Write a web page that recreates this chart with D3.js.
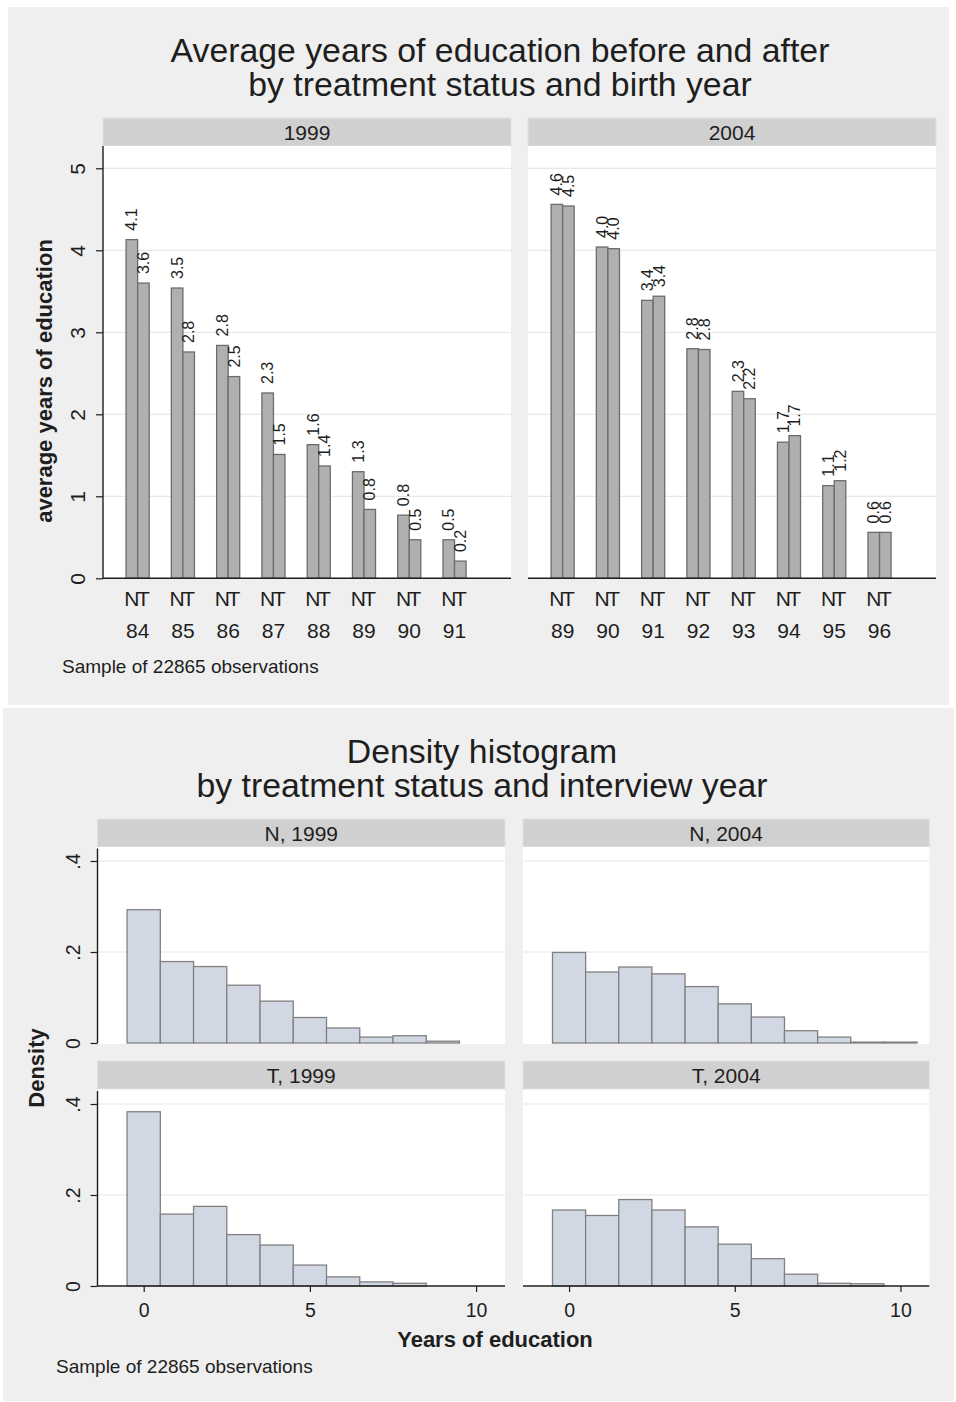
<!DOCTYPE html>
<html>
<head>
<meta charset="utf-8">
<script src="https://cdn.jsdelivr.net/npm/d3@7"></script>
<style>
  body { margin: 0; background: #ffffff; }
  text { font-family: "Liberation Sans", Arial, sans-serif; fill: #1e1e1e; }
</style>
</head>
<body>
<svg id="chart" width="956" height="1402"></svg>
<script>
// ---- Bar chart data: average years of education by cohort (birth year) ----
const cohorts1999 = ["84", "85", "86", "87", "88", "89", "90", "91"];
const cohorts2004 = ["89", "90", "91", "92", "93", "94", "95", "96"];
const groups = ["N", "T"];
const eduN1999 = [4.13, 3.54, 2.84, 2.26, 1.63, 1.30, 0.77, 0.47];
const eduT1999 = [3.60, 2.76, 2.46, 1.51, 1.37, 0.84, 0.47, 0.21];
const eduN2004 = [4.56, 4.04, 3.39, 2.80, 2.28, 1.66, 1.13, 0.56];
const eduT2004 = [4.54, 4.02, 3.44, 2.79, 2.19, 1.74, 1.19, 0.56];
const eduAxisTicks = [0, 1, 2, 3, 4, 5];

// ---- Histogram data: density of years of education (bins centred on integers) ----
const eduYears = [0, 1, 2, 3, 4, 5, 6, 7, 8, 9, 10];
const densN1999 = [0.293, 0.179, 0.168, 0.127, 0.092, 0.056, 0.033, 0.013, 0.016, 0.004, 0];
const densN2004 = [0.199, 0.156, 0.167, 0.152, 0.124, 0.086, 0.057, 0.027, 0.013, 0.002, 0.002];
const densT1999 = [0.383, 0.158, 0.175, 0.113, 0.090, 0.046, 0.020, 0.009, 0.006, 0, 0];
const densT2004 = [0.167, 0.155, 0.190, 0.167, 0.130, 0.092, 0.060, 0.026, 0.006, 0.005, 0];
const densAxisTicks = [0, 0.2, 0.4];
const yearAxisTicks = [0, 5, 10];

const sampleNote = "Sample of 22865 observations";

// ---- Styling ----
const BG = "#efefef", STRIP = "#d0d0d0", STRIP_EDGE = "#d8e4ea", GRID = "#e8e8e8",
      AXIS = "#1e1e1e", BAR_FILL = "#b0b0b0", BAR_EDGE = "#6c6c6c",
      HIST_FILL = "#d2d8e3", HIST_EDGE = "#808080";

const svg = d3.select("#chart");

// Graph backgrounds
svg.append("rect").attr("x", 8).attr("y", 7).attr("width", 941).attr("height", 698).attr("fill", BG);
svg.append("rect").attr("x", 3).attr("y", 708).attr("width", 951).attr("height", 693).attr("fill", BG);

function title(lines, cx, y0, dy) {
  lines.forEach((t, i) => svg.append("text")
    .attr("x", cx).attr("y", y0 + i * dy)
    .attr("text-anchor", "middle")
    .style("font-size", "33.8px")
    .text(t));
}

function strip(x0, x1, y0, h, label) {
  svg.append("rect").attr("x", x0).attr("y", y0).attr("width", x1 - x0).attr("height", h)
    .attr("fill", STRIP).attr("stroke", STRIP_EDGE).attr("stroke-width", 1);
  svg.append("text").attr("x", (x0 + x1) / 2).attr("y", y0 + h / 2 + 7.5)
    .attr("text-anchor", "middle").style("font-size", "21px").text(label);
}

// Rotated y tick labels, Stata style
function styleYAxis(g, baselineOffset, size) {
  g.select(".domain").remove();
  g.selectAll(".tick line").attr("stroke", AXIS).attr("stroke-width", 1.2);
  g.selectAll(".tick text")
    .attr("x", null).attr("dy", null)
    .attr("transform", `translate(${-baselineOffset},0) rotate(-90)`)
    .attr("text-anchor", "middle")
    .style("font-size", size + "px")
    .attr("fill", "#1e1e1e");
}

// =====================================================================
// Top graph: grouped bars by birth year, panels by interview year
// =====================================================================
title(["Average years of education before and after",
       "by treatment status and birth year"], 500, 62, 34);

const barBase = 578.3, barPlotTop = 146;
const yEdu = d3.scaleLinear().domain([0, 5]).range([barBase, 168.3]);
const fmt1 = d3.format(".1f");

const barPanels = [
  { label: "1999", left: 103, right: 511, cohorts: cohorts1999, N: eduN1999, T: eduT1999 },
  { label: "2004", left: 528, right: 936, cohorts: cohorts2004, N: eduN2004, T: eduT2004 }
];

barPanels.forEach((p, pi) => {
  strip(p.left, p.right, 118, 28, p.label);
  svg.append("rect").attr("x", p.left).attr("y", barPlotTop)
    .attr("width", p.right - p.left).attr("height", barBase - barPlotTop).attr("fill", "#fff");

  // grid
  svg.append("g").selectAll("line").data(eduAxisTicks.filter(d => d > 0)).join("line")
    .attr("x1", p.left).attr("x2", p.right)
    .attr("y1", d => yEdu(d)).attr("y2", d => yEdu(d))
    .attr("stroke", GRID).attr("stroke-width", 1.2);

  const x = d3.scaleBand().domain(p.cohorts)
    .range([p.left + 12, p.left + 12 + 8 * 45.27])
    .paddingInner(0.49).paddingOuter(0.245);
  const xg = d3.scaleBand().domain(groups).range([0, x.bandwidth()]);

  const rows = [];
  p.cohorts.forEach((c, i) => {
    rows.push({ cohort: c, group: "N", value: p.N[i] });
    rows.push({ cohort: c, group: "T", value: p.T[i] });
  });

  const g = svg.append("g");
  g.selectAll("rect").data(rows).join("rect")
    .attr("x", d => x(d.cohort) + xg(d.group))
    .attr("width", xg.bandwidth())
    .attr("y", d => yEdu(d.value))
    .attr("height", d => yEdu(0) - yEdu(d.value))
    .attr("fill", BAR_FILL).attr("stroke", BAR_EDGE).attr("stroke-width", 1.3);

  // value labels, rotated above bars
  g.selectAll("text.val").data(rows).join("text").attr("class", "val")
    .attr("transform", d => `translate(${x(d.cohort) + xg(d.group) + xg.bandwidth() / 2},${yEdu(d.value) - 9}) rotate(-90)`)
    .attr("dy", "0.35em")
    .style("font-size", "16px")
    .text(d => fmt1(d.value));

  // group letters under each bar
  g.selectAll("text.grp").data(rows).join("text").attr("class", "grp")
    .attr("x", d => x(d.cohort) + xg(d.group) + xg.bandwidth() / 2)
    .attr("y", 606)
    .attr("text-anchor", "middle")
    .style("font-size", "21px")
    .text(d => d.group);

  // cohort labels
  g.selectAll("text.coh").data(p.cohorts).join("text").attr("class", "coh")
    .attr("x", d => x(d) + x.bandwidth() / 2)
    .attr("y", 638)
    .attr("text-anchor", "middle")
    .style("font-size", "21px")
    .text(d => d);

  // x axis line
  svg.append("line").attr("x1", p.left).attr("x2", p.right)
    .attr("y1", barBase).attr("y2", barBase).attr("stroke", AXIS).attr("stroke-width", 1.4);

  if (pi === 0) {
    svg.append("line").attr("x1", p.left).attr("x2", p.left)
      .attr("y1", barPlotTop).attr("y2", barBase).attr("stroke", AXIS).attr("stroke-width", 1.4);
    const ax = svg.append("g").attr("transform", `translate(${p.left},0)`)
      .call(d3.axisLeft(yEdu).tickValues(eduAxisTicks).tickSize(7).tickFormat(d3.format("d")));
    styleYAxis(ax, 18, 21);
  }
});

svg.append("text")
  .attr("transform", "translate(52,381) rotate(-90)")
  .attr("text-anchor", "middle")
  .style("font-size", "22px").style("font-weight", "bold")
  .text("average years of education");

svg.append("text").attr("x", 62).attr("y", 672.5).style("font-size", "19px").text(sampleNote);

// =====================================================================
// Bottom graph: density histograms by treatment status and interview year
// =====================================================================
title(["Density histogram", "by treatment status and interview year"], 482, 763, 34);

const histCols = [{ left: 97.5, right: 505 }, { left: 523, right: 929.3 }];
const histRows = [{ stripTop: 819, top: 847, base: 1043 }, { stripTop: 1061, top: 1089.5, base: 1286 }];

const histPanels = [
  { label: "N, 1999", col: 0, row: 0, dens: densN1999 },
  { label: "N, 2004", col: 1, row: 0, dens: densN2004 },
  { label: "T, 1999", col: 0, row: 1, dens: densT1999 },
  { label: "T, 2004", col: 1, row: 1, dens: densT2004 }
];

const densFmt = d => d === 0 ? "0" : d3.format(".1f")(d).replace(/^0/, "");

histPanels.forEach(p => {
  const c = histCols[p.col], r = histRows[p.row];
  strip(c.left, c.right, r.stripTop, 28, p.label);
  svg.append("rect").attr("x", c.left).attr("y", r.top)
    .attr("width", c.right - c.left).attr("height", r.base - r.top + 1).attr("fill", "#fff");

  const x = d3.scaleLinear().domain([-1.39, 10.87]).range([c.left, c.right]);
  const y = d3.scaleLinear().domain([0, 0.4]).range([r.base, r.base - 182]);

  svg.append("g").selectAll("line").data(densAxisTicks.filter(d => d > 0)).join("line")
    .attr("x1", c.left).attr("x2", c.right)
    .attr("y1", d => y(d)).attr("y2", d => y(d))
    .attr("stroke", GRID).attr("stroke-width", 1.2);

  const bins = eduYears.map((v, i) => ({ v, d: p.dens[i] })).filter(b => b.d > 0);
  svg.append("g").selectAll("rect").data(bins).join("rect")
    .attr("x", b => x(b.v - 0.5))
    .attr("width", b => x(b.v + 0.5) - x(b.v - 0.5))
    .attr("y", b => y(b.d))
    .attr("height", b => y(0) - y(b.d))
    .attr("fill", HIST_FILL).attr("stroke", HIST_EDGE).attr("stroke-width", 1.3);

  if (p.col === 0) {
    svg.append("line").attr("x1", c.left).attr("x2", c.left)
      .attr("y1", r.top + 1.5).attr("y2", r.base).attr("stroke", AXIS).attr("stroke-width", 1.4);
    const ax = svg.append("g").attr("transform", `translate(${c.left},0)`)
      .call(d3.axisLeft(y).tickValues(densAxisTicks).tickSize(7).tickFormat(densFmt));
    styleYAxis(ax, 17.5, 19.5);
  }
  if (p.row === 1) {
    svg.append("line").attr("x1", c.left).attr("x2", c.right)
      .attr("y1", r.base).attr("y2", r.base).attr("stroke", AXIS).attr("stroke-width", 1.4);
    const ax = svg.append("g").attr("transform", `translate(0,${r.base})`)
      .call(d3.axisBottom(x).tickValues(yearAxisTicks).tickSize(6).tickFormat(d3.format("d")));
    ax.select(".domain").remove();
    ax.selectAll(".tick line").attr("stroke", AXIS).attr("stroke-width", 1.2);
    ax.selectAll(".tick text").attr("y", 30.7).attr("dy", null)
      .style("font-size", "19.5px").attr("fill", "#1e1e1e");
  }
});

svg.append("text").attr("x", 495).attr("y", 1347)
  .attr("text-anchor", "middle")
  .style("font-size", "22px").style("font-weight", "bold")
  .text("Years of education");

svg.append("text")
  .attr("transform", "translate(44,1068) rotate(-90)")
  .attr("text-anchor", "middle")
  .style("font-size", "22px").style("font-weight", "bold")
  .text("Density");

svg.append("text").attr("x", 56).attr("y", 1373).style("font-size", "19px").text(sampleNote);
</script>
</body>
</html>
